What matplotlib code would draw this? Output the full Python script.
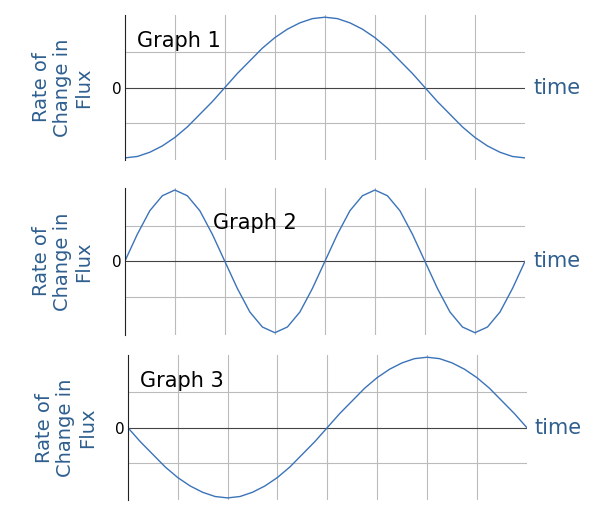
import numpy as np
import matplotlib.pyplot as plt

# values at every 1/32 of the time axis
t = [k / 32 for k in range(33)]
graph1 = [-1, -.98, -.92, -.83, -.71, -.56, -.38, -.20, 0, .20, .38, .56, .71, .83, .92, .98, 1,
          .98, .92, .83, .71, .56, .38, .20, 0, -.20, -.38, -.56, -.71, -.83, -.92, -.98, -1]
graph2 = [0, .38, .71, .92, 1, .92, .71, .38, 0, -.38, -.71, -.92, -1, -.92, -.71, -.38,
          0, .38, .71, .92, 1, .92, .71, .38, 0, -.38, -.71, -.92, -1, -.92, -.71, -.38, 0]
graph3 = [0, -.20, -.38, -.56, -.71, -.83, -.92, -.98, -1, -.98, -.92, -.83, -.71, -.56, -.38, -.20,
          0, .20, .38, .56, .71, .83, .92, .98, 1, .98, .92, .83, .71, .56, .38, .20, 0]
titles = ["Graph 1", "Graph 2", "Graph 3"]

label_col = "#2e5f8f"
line_col = "#3b73b9"

fig = plt.figure(figsize=(6, 5.12), dpi=100)
boxes = [(0.208, 0.6875, 0.667, 0.283), (0.208, 0.346, 0.667, 0.287), (0.213, 0.0234, 0.665, 0.283)]
title_pos = [(0.03, 0.78), (0.22, 0.72), (0.03, 0.78)]

for box, y, title, tp in zip(boxes, [graph1, graph2, graph3], titles, title_pos):
    ax = fig.add_axes(box)
    ax.plot(t, y, color=line_col, lw=1)
    ax.set_xlim(0, 1)
    ax.set_ylim(-1.03, 1.03)
    for x in np.arange(1, 8) / 8:
        ax.axvline(x, color="#bbbbbb", lw=0.8, zorder=0)
    for h in [-0.5, 0.5]:
        ax.axhline(h, color="#bbbbbb", lw=0.8, zorder=0)
    ax.axhline(0, color="#444444", lw=0.8, zorder=0)
    for s in ["top", "right", "bottom"]:
        ax.spines[s].set_visible(False)
    ax.spines["left"].set_color("#222222")
    ax.set_xticks([])
    ax.set_yticks([0])
    ax.tick_params(axis="y", length=0, labelsize=11, pad=2)
    ax.text(tp[0], tp[1], title, transform=ax.transAxes, fontsize=15, color="black")
    ax.text(1.02, 0.5, "time", transform=ax.transAxes, fontsize=15, color=label_col, va="center")
    ax.text(-0.155, 0.5, "Rate of\nChange in\nFlux", transform=ax.transAxes, fontsize=14,
            color=label_col, rotation=90, va="center", ha="center", linespacing=1.15)

fig.savefig("out.png")
